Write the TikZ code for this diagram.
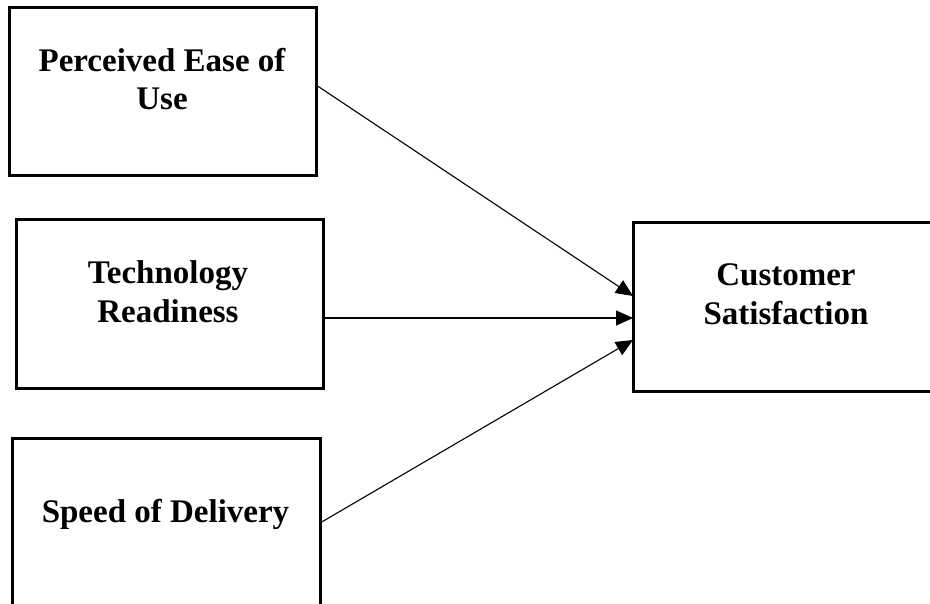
\documentclass[tikz,border=0pt]{standalone}
\usepackage{fontspec}
\setmainfont{Liberation Serif}
\usetikzlibrary{arrows.meta,calc}
\begin{document}
\begin{tikzpicture}[x=1pt,y=-1pt,
  box/.style={draw=black,line width=3pt,rectangle,inner sep=0pt,outer sep=0pt,fill=none},
  lbl/.style={inner sep=0pt,anchor=base,font=\fontsize{33}{38}\selectfont\bfseries},
  conn/.style={draw=black,line width=1.1pt,-{Triangle[length=17pt,width=15pt]}}]
\useasboundingbox (0,0) rectangle (930,604);
\fill[white] (0,0) rectangle (930,604);
% boxes
\node[box,minimum width=307pt,minimum height=168pt] (b1) at (162.5,92) {};
\node[box,minimum width=307pt,minimum height=168pt] (b2) at (169.5,304) {};
\node[box,minimum width=308pt,minimum height=170pt] (b3) at (166,523) {};
\node[box,minimum width=306pt,minimum height=169pt] (b4) at (786,307) {};
% labels
\node[lbl] (t1a) at (162,72) {Perceived Ease of};
\node[lbl] (t1b) at (162,110) {Use};
\node[lbl] (t2a) at (168,284) {Technology};
\node[lbl] (t2b) at (168,323) {Readiness};
\node[lbl] (t3a) at (165.5,522) {Speed of Delivery};
\node[lbl] (t4a) at (786,286) {Customer};
\node[lbl] (t4b) at (786,325) {Satisfaction};
% connectors
\draw[conn] ([yshift=7pt]b1.east) -- ([yshift=11pt]b4.west);
\draw[conn] ([yshift=-14pt]b2.east) -- ([yshift=-11pt]b4.west);
\draw[conn] (b3.east) -- ([yshift=-33pt]b4.west);
\end{tikzpicture}
\end{document}
